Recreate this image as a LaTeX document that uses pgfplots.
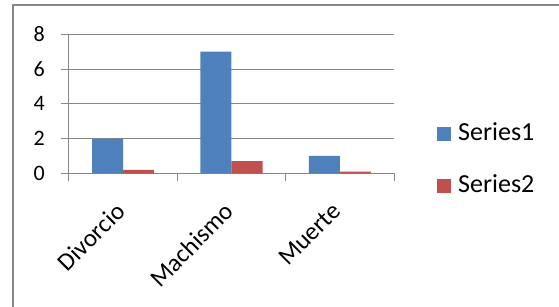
\documentclass[border=0pt]{standalone}
\usepackage{pgfplots}
\pgfplotsset{compat=1.18}
\usepackage{fontspec}
\setmainfont{Carlito}
\definecolor{s1}{RGB}{79,129,189}
\definecolor{s2}{RGB}{192,80,77}
\definecolor{ax}{RGB}{134,134,134}
\begin{document}
\begin{tikzpicture}
\path[use as bounding box] (-69bp,-133.7bp) rectangle (490bp,173.3bp);
\draw[ax, line width=1.3bp] (-56bp,-200bp) -- (-56bp,168.3bp) -- (600bp,168.3bp);
\begin{axis}[
  at={(0,0)}, anchor=south west,
  scale only axis,
  width=325bp, height=139bp,
  xmin=-0.5, xmax=2.5,
  ymin=0, ymax=8,
  ybar, bar width=31bp,
  axis x line=bottom, axis y line=left,
  axis line style={-, ax, line width=1bp},
  xtick={0,1,2},
  xticklabels={Divorcio,Machismo,Muerte},
  minor xtick={-0.5,0.5,1.5,2.5},
  ytick={0,2,4,6,8},
  tick align=outside,
  major tick length=8bp,
  minor tick length=8bp,
  major x tick style={draw=none},
  tick style={ax, line width=1bp},
  ymajorgrids,
  major grid style={ax, line width=1bp},
  /pgf/number format/assume math mode=true,
  yticklabel style={font=\fontsize{22bp}{26bp}\selectfont, inner sep=0pt, xshift=-16bp},
  xticklabel style={font=\fontsize{25bp}{30bp}\selectfont, rotate=45, anchor=north east, inner sep=0pt, xshift=-20bp, yshift=-7.7bp},
  legend style={draw=none, fill=none, at={(1.123,0.382)}, anchor=north west,
    font=\fontsize{26bp}{31bp}\selectfont,
    nodes={inner sep=0pt, text height=18bp, text depth=6bp},
    row sep=28bp,
    /tikz/every odd column/.append style={column sep=7bp}},
  every axis plot post/.append style={legend image code/.code={\fill[##1] (0bp,-7bp) rectangle (14bp,7bp);}},
]
\addplot[fill=s1, draw=none, bar shift=-15.5bp] coordinates {(0,2) (1,7) (2,1)};
\addplot[fill=s2, draw=none, bar shift=15.5bp] coordinates {(0,0.2) (1,0.7) (2,0.1)};
\legend{Series1,Series2}
\end{axis}
\end{tikzpicture}
\end{document}
